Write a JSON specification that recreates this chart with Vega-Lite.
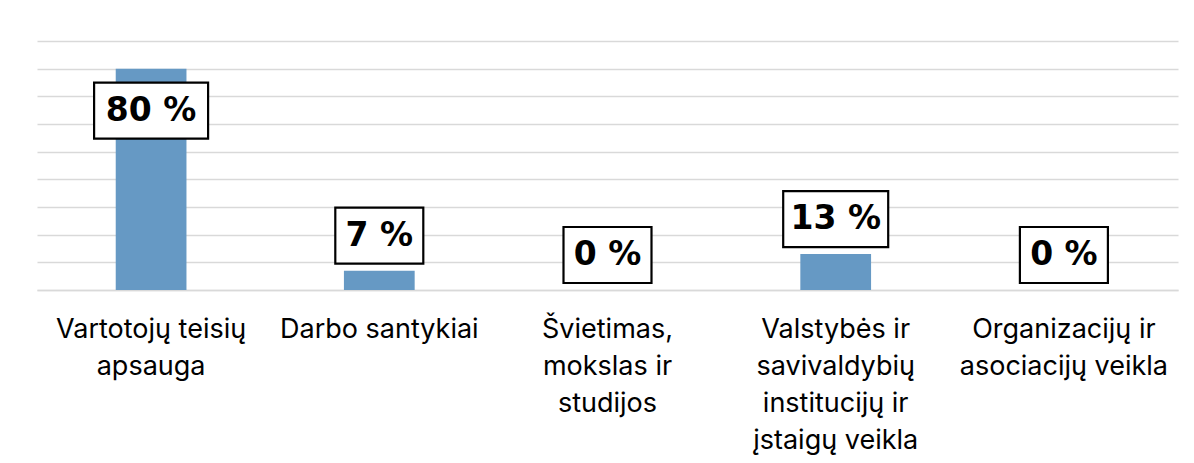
{
  "$schema": "https://vega.github.io/schema/vega-lite/v6.json",
  "width": 1141,
  "height": 249,
  "autosize": {"type": "none"},
  "padding": {"left": 37, "top": 41, "right": 16, "bottom": 173},
  "background": "white",
  "config": {"view": {"stroke": null}},
  "data": {
    "values": [
      {"category": "Vartotojų teisių\napsauga", "value": 80},
      {"category": "Darbo santykiai", "value": 7},
      {"category": "Švietimas,\nmokslas ir\nstudijos", "value": 0},
      {"category": "Valstybės ir\nsavivaldybių\ninstitucijų ir\nįstaigų veikla", "value": 13},
      {"category": "Organizacijų ir\nasociacijų veikla", "value": 0}
    ]
  },
  "encoding": {
    "x": {
      "field": "category",
      "type": "nominal",
      "sort": null,
      "scale": {"paddingInner": 0.69, "paddingOuter": 0.345},
      "axis": {
        "title": null,
        "labelAngle": 0,
        "labelExpr": "split(datum.label, '\\n')",
        "labelFont": "Inter",
        "labelFontSize": 27,
        "labelColor": "#000000",
        "labelLineHeight": 37,
        "labelPadding": 26,
        "labelLimit": 0,
        "ticks": false,
        "domainColor": "#d9d9d9",
        "domainWidth": 1.3
      }
    },
    "y": {
      "field": "value",
      "type": "quantitative",
      "scale": {"domain": [0, 90], "nice": false},
      "axis": {
        "title": null,
        "values": [0, 10, 20, 30, 40, 50, 60, 70, 80, 90],
        "labels": false,
        "ticks": false,
        "domain": false,
        "grid": true,
        "gridColor": "#d9d9d9",
        "gridWidth": 1.3
      }
    }
  },
  "layer": [
    {"mark": {"type": "bar", "color": "#6699c4"}},
    {
      "transform": [{"filter": "datum.value >= 50"}],
      "layer": [
        {
          "mark": {"type": "point", "filled": true, "fill": "white", "stroke": "black", "strokeWidth": 2.2, "opacity": 1, "size": 10000, "yOffset": 42},
          "encoding": {
            "shape": {"condition": {"test": "datum.value >= 10", "value": "M-1.14,-0.56H1.14V0.56H-1.14Z"}, "value": "M-0.88,-0.56H0.88V0.56H-0.88Z"}
          }
        },
        {
          "mark": {"type": "text", "font": "DejaVu Sans", "fontWeight": "bold", "fontSize": 33, "color": "black", "baseline": "middle", "align": "center", "yOffset": 42, "text": {"expr": "datum.value + ' %'"}}
        }
      ]
    },
    {
      "transform": [{"filter": "datum.value < 50"}],
      "layer": [
        {
          "mark": {"type": "point", "filled": true, "fill": "white", "stroke": "black", "strokeWidth": 2.2, "opacity": 1, "size": 10000, "yOffset": -35},
          "encoding": {
            "shape": {"condition": {"test": "datum.value >= 10", "value": "M-1.05,-0.56H1.05V0.56H-1.05Z"}, "value": "M-0.88,-0.56H0.88V0.56H-0.88Z"}
          }
        },
        {
          "mark": {"type": "text", "font": "DejaVu Sans", "fontWeight": "bold", "fontSize": 33, "color": "black", "baseline": "middle", "align": "center", "yOffset": -35, "text": {"expr": "datum.value + ' %'"}}
        }
      ]
    }
  ]
}
